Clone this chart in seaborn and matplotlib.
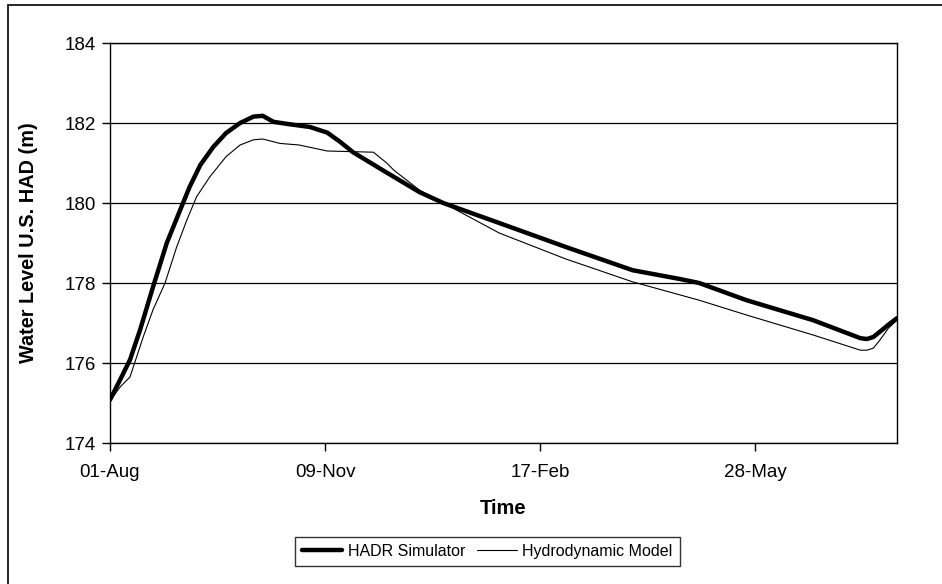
import matplotlib
matplotlib.use("Agg")
import matplotlib.pyplot as plt
import matplotlib.dates as mdates
from matplotlib.patches import Rectangle
import seaborn as sns
import pandas as pd

# ---- data (day offset from 01-Aug, water level in m) ----
start_date = "2002-08-01"
hadr_days = [0, 4.7, 9.3, 14, 20, 26.4, 32.6, 37, 42, 48, 54, 60.5, 66.7, 71, 76,
             82, 93, 101, 107, 113, 129, 144, 155, 181, 212, 243, 265, 274, 296,
             327, 349, 352, 355, 358, 363, 366]
hadr_level = [175.08, 175.58, 176.08, 176.83, 177.9, 179.0, 179.82, 180.4, 180.95,
              181.4, 181.75, 182.0, 182.16, 182.18, 182.03, 181.98, 181.9, 181.76,
              181.53, 181.27, 180.75, 180.27, 180.0, 179.5, 178.9, 178.32, 178.1,
              178.0, 177.57, 177.07, 176.62, 176.6, 176.65, 176.78, 177.0, 177.12]
hydro_days = [0, 4.7, 9.3, 15.5, 20, 25.6, 31, 35.7, 40.3, 46.5, 54, 60.5, 66.7,
              71, 79, 88, 101, 122.5, 128.7, 132, 144, 155, 181, 212, 243, 274,
              296, 327, 349, 352, 355, 358, 362, 366]
hydro_level = [175.05, 175.4, 175.65, 176.66, 177.33, 178.0, 178.9, 179.57, 180.16,
               180.66, 181.16, 181.45, 181.58, 181.6, 181.49, 181.45, 181.3, 181.27,
               181.0, 180.82, 180.32, 180.0, 179.25, 178.6, 178.03, 177.57, 177.2,
               176.7, 176.32, 176.32, 176.37, 176.57, 176.87, 177.07]
series_names = ["HADR Simulator", "Hydrodynamic Model"]
x_tick_dates = ["2002-08-01", "2002-11-09", "2003-02-17", "2003-05-28"]
y_ticks = [174, 176, 178, 180, 182, 184]
x_label = "Time"
y_label = "Water Level U.S. HAD (m)"

t0 = pd.Timestamp(start_date)
df_h = pd.DataFrame({"date": t0 + pd.to_timedelta(hadr_days, unit="D"), "level": hadr_level})
df_m = pd.DataFrame({"date": t0 + pd.to_timedelta(hydro_days, unit="D"), "level": hydro_level})

sns.set_style("white")
plt.rcParams["font.family"] = ["Liberation Sans", "DejaVu Sans"]
plt.rcParams["text.color"] = "black"
plt.rcParams["axes.labelcolor"] = "black"

fig = plt.figure(figsize=(9.42, 5.84), dpi=100)
W, H = 942, 584
ax = fig.add_axes([110 / W, (H - 443) / H, 787 / W, 400 / H])

sns.lineplot(data=df_h, x="date", y="level", ax=ax, color="black", linewidth=3.2,
             label=series_names[0])
sns.lineplot(data=df_m, x="date", y="level", ax=ax, color="black", linewidth=0.8,
             label=series_names[1])

ax.set_ylim(174, 184)
ax.set_yticks(y_ticks)
ax.set_xlim(t0, t0 + pd.Timedelta(days=366))
ax.set_xticks(pd.to_datetime(x_tick_dates))
ax.xaxis.set_major_formatter(mdates.DateFormatter("%d-%b"))

ax.grid(axis="y", color="black", linewidth=0.9)
ax.grid(axis="x", visible=False)
for s in ax.spines.values():
    s.set_color("black")
    s.set_linewidth(1.0)
    s.set_visible(True)

ax.tick_params(axis="both", direction="out", length=6, width=1.0, color="black",
               labelsize=13.5, labelcolor="black", bottom=True, left=True)
ax.tick_params(axis="x", pad=9)
ax.tick_params(axis="y", pad=4)

ax.set_xlabel(x_label, fontsize=14.5, fontweight="bold", labelpad=13, color="black")
ax.set_ylabel(y_label, fontsize=14.3, fontweight="bold", labelpad=19, color="black")

ax.get_legend().remove()
handles, labels = ax.get_legend_handles_labels()
leg = fig.legend(handles, labels, loc="center", bbox_to_anchor=(487.5 / W, 1 - 551.5 / H),
                 ncol=2, frameon=True, fancybox=False, shadow=False, fontsize=11.5,
                 handlelength=2.5, handletextpad=0.37, columnspacing=0.7,
                 borderpad=0.45, borderaxespad=0)
leg.get_frame().set_edgecolor("black")
leg.get_frame().set_linewidth(1.0)
for t in leg.get_texts():
    t.set_color("black")

fig.patches.append(Rectangle((8 / W, -0.1), 1.2, 1.1 - 5 / H, transform=fig.transFigure,
                             fill=False, edgecolor="black", linewidth=1.2))

fig.savefig("out.png", dpi=100)
